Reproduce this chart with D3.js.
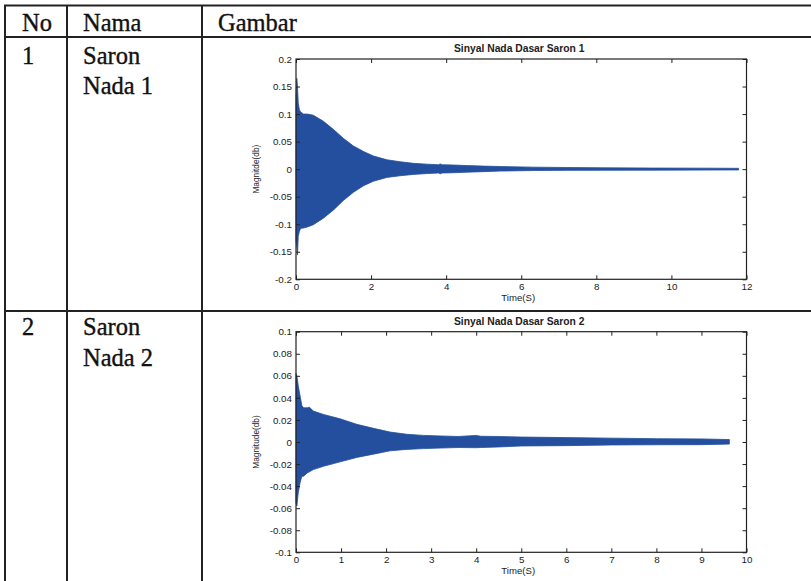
<!DOCTYPE html>
<html>
<head>
<meta charset="utf-8">
<script src="https://cdn.jsdelivr.net/npm/d3@7"></script>
<style>
  html, body { margin: 0; padding: 0; background: #ffffff; }
  svg { display: block; }
</style>
</head>
<body>
<svg id="chart" width="811" height="581"></svg>
<script>
// ---------------- data ----------------
const headers = ["No", "Nama", "Gambar"];
const rowNumbers = ["1", "2"];
const rowNames = [["Saron", "Nada 1"], ["Saron", "Nada 2"]];

const titles = ["Sinyal Nada Dasar Saron 1", "Sinyal Nada Dasar Saron 2"];
const yLabels = ["Magnitde(db)", "Magnitude(db)"];
const xLabels = ["Time(S)", "Time(S)"];

const xDomains = [[0, 12], [0, 10]];
const yDomains = [[-0.2, 0.2], [-0.1, 0.1]];
const xTicks1 = [0, 2, 4, 6, 8, 10, 12];
const yTicks1 = [-0.2, -0.15, -0.1, -0.05, 0, 0.05, 0.1, 0.15, 0.2];
const xTicks2 = [0, 1, 2, 3, 4, 5, 6, 7, 8, 9, 10];
const yTicks2 = [-0.1, -0.08, -0.06, -0.04, -0.02, 0, 0.02, 0.04, 0.06, 0.08, 0.1];

// envelope of the Saron 1 waveform (time in s, upper and lower amplitude)
const env1Time  = [0, 0.02, 0.04, 0.06, 0.09, 0.12, 0.16, 0.2, 0.3, 0.46, 0.73, 1.0, 1.26, 1.53, 1.8, 2.06, 2.42, 2.77, 3.13, 3.5, 3.8, 3.84, 3.9, 4.2, 4.55, 5.0, 5.44, 6.33, 7.2, 8.1, 9.5, 11.0, 11.79];
const env1Upper = [0.13, 0.165, 0.15, 0.12, 0.108, 0.104, 0.102, 0.1, 0.1, 0.098, 0.087, 0.072, 0.056, 0.042, 0.032, 0.024, 0.017, 0.0135, 0.0105, 0.009, 0.008, 0.0095, 0.008, 0.0075, 0.0065, 0.0055, 0.0048, 0.0036, 0.003, 0.0025, 0.002, 0.0018, 0.0015];
const env1Lower = [-0.13, -0.14, -0.156, -0.122, -0.113, -0.108, -0.107, -0.107, -0.105, -0.101, -0.089, -0.074, -0.057, -0.042, -0.03, -0.022, -0.015, -0.012, -0.0095, -0.008, -0.007, -0.0085, -0.007, -0.0065, -0.0055, -0.0045, -0.0035, -0.0025, -0.0022, -0.002, -0.0018, -0.0016, -0.0015];

// envelope of the Saron 2 waveform
const env2Time  = [0, 0.02, 0.05, 0.09, 0.13, 0.17, 0.25, 0.3, 0.385, 0.61, 0.98, 1.35, 1.72, 2.09, 2.46, 2.83, 3.2, 3.6, 4.0, 4.1, 4.5, 5, 6, 7, 8, 9, 9.62];
const env2Upper = [0.062, 0.06, 0.051, 0.042, 0.033, 0.031, 0.031, 0.0315, 0.028, 0.025, 0.021, 0.016, 0.0124, 0.009, 0.007, 0.006, 0.0055, 0.005, 0.006, 0.0052, 0.005, 0.0045, 0.004, 0.0035, 0.003, 0.0028, 0.0022];
const env2Lower = [-0.055, -0.058, -0.046, -0.037, -0.031, -0.031, -0.028, -0.027, -0.025, -0.022, -0.018, -0.014, -0.011, -0.008, -0.0067, -0.006, -0.0055, -0.005, -0.0052, -0.005, -0.0045, -0.0036, -0.0033, -0.0027, -0.0025, -0.0024, -0.0019];

// ---------------- drawing ----------------
const svg = d3.select("#chart");
const W = 811, H = 581;
const lineColor = "#222222";
const serif = "'Liberation Serif', 'Times New Roman', serif";
const sans = "'Liberation Sans', Arial, sans-serif";
const waveColor = "#234f9e";

svg.append("rect").attr("width", W).attr("height", H).attr("fill", "#ffffff");

// table grid
const colX = [5, 67, 202];
const rowY = [5.5, 37, 311];
const grid = svg.append("g").attr("stroke", lineColor).attr("stroke-width", 2).attr("fill", "none");
rowY.forEach(y => grid.append("line").attr("x1", colX[0] - 1).attr("x2", W).attr("y1", y).attr("y2", y));
colX.forEach(x => grid.append("line").attr("x1", x).attr("x2", x).attr("y1", rowY[0]).attr("y2", H));

// header texts
const headerX = [22, 83, 218];
const tbl = svg.append("g").attr("font-family", serif).attr("font-size", 24.5)
  .attr("fill", "#111").attr("stroke", "#111").attr("stroke-width", 0.35);
headers.forEach((h, i) => tbl.append("text").attr("x", headerX[i]).attr("y", 31).text(h));

// row texts
const rowBase = [63.5, 335];
rowNumbers.forEach((n, i) => {
  tbl.append("text").attr("x", 22).attr("y", rowBase[i]).text(n);
  rowNames[i].forEach((s, j) => tbl.append("text").attr("x", 83).attr("y", rowBase[i] + j * 30.5).text(s));
});

// plots
const plotBoxes = [
  { left: 296, right: 746.5, top: 59, bottom: 279.3 },
  { left: 296, right: 746.5, top: 331.7, bottom: 552.3 }
];
const xTickSets = [xTicks1, xTicks2];
const yTickSets = [yTicks1, yTicks2];
const envs = [
  env1Time.map((t, i) => ({ t, hi: env1Upper[i], lo: env1Lower[i] })),
  env2Time.map((t, i) => ({ t, hi: env2Upper[i], lo: env2Lower[i] }))
];
const fmt = v => {
  const r = Math.round(v * 1000) / 1000;
  return r === 0 ? "0" : String(r);
};

plotBoxes.forEach((b, k) => {
  const x = d3.scaleLinear().domain(xDomains[k]).range([b.left, b.right]);
  const y = d3.scaleLinear().domain(yDomains[k]).range([b.bottom, b.top]);
  const g = svg.append("g");

  // waveform envelope
  const area = d3.area().x(d => x(d.t)).y0(d => y(d.lo)).y1(d => y(d.hi));
  g.append("path").datum(envs[k]).attr("d", area)
    .attr("fill", waveColor).attr("stroke", waveColor).attr("stroke-width", 0.8)
    .attr("stroke-linejoin", "round");

  // axes (ticks inward on all four sides)
  const tk = 4;
  const axB = g.append("g").attr("transform", `translate(0,${b.bottom})`)
    .call(d3.axisBottom(x).tickValues(xTickSets[k]).tickSizeInner(-tk).tickSizeOuter(0).tickPadding(4).tickFormat(fmt));
  const axL = g.append("g").attr("transform", `translate(${b.left},0)`)
    .call(d3.axisLeft(y).tickValues(yTickSets[k]).tickSizeInner(-tk).tickSizeOuter(0).tickPadding(4).tickFormat(fmt));
  const axT = g.append("g").attr("transform", `translate(0,${b.top})`)
    .call(d3.axisTop(x).tickValues(xTickSets[k]).tickSizeInner(-tk).tickSizeOuter(0).tickFormat(""));
  const axR = g.append("g").attr("transform", `translate(${b.right},0)`)
    .call(d3.axisRight(y).tickValues(yTickSets[k]).tickSizeInner(-tk).tickSizeOuter(0).tickFormat(""));
  [axB, axL, axT, axR].forEach(a => {
    a.select(".domain").remove();
    a.selectAll(".tick line").attr("stroke", "#222").attr("stroke-width", 1);
    a.selectAll("text").attr("font-family", sans).attr("font-size", 9.8).attr("fill", "#222");
  });
  axB.selectAll("text").attr("dy", "0.71em");

  // frame
  g.append("rect").attr("x", b.left).attr("y", b.top)
    .attr("width", b.right - b.left).attr("height", b.bottom - b.top)
    .attr("fill", "none").attr("stroke", "#222").attr("stroke-width", 1.2);

  const cx = (b.left + b.right) / 2;
  // title
  g.append("text").attr("x", cx - 2).attr("y", b.top - 7).attr("text-anchor", "middle")
    .attr("font-family", sans).attr("font-size", 10.3).attr("font-weight", "bold").attr("fill", "#222")
    .text(titles[k]);
  // x label
  g.append("text").attr("x", cx - 3).attr("y", b.bottom + 22).attr("text-anchor", "middle")
    .attr("font-family", sans).attr("font-size", 9.6).attr("fill", "#222")
    .text(xLabels[k]);
  // y label
  const ymid = (b.top + b.bottom) / 2;
  g.append("text").attr("transform", `translate(259,${ymid}) rotate(-90)`).attr("text-anchor", "middle")
    .attr("font-family", sans).attr("font-size", 8.3).attr("fill", "#222")
    .text(yLabels[k]);
});
</script>
</body>
</html>
